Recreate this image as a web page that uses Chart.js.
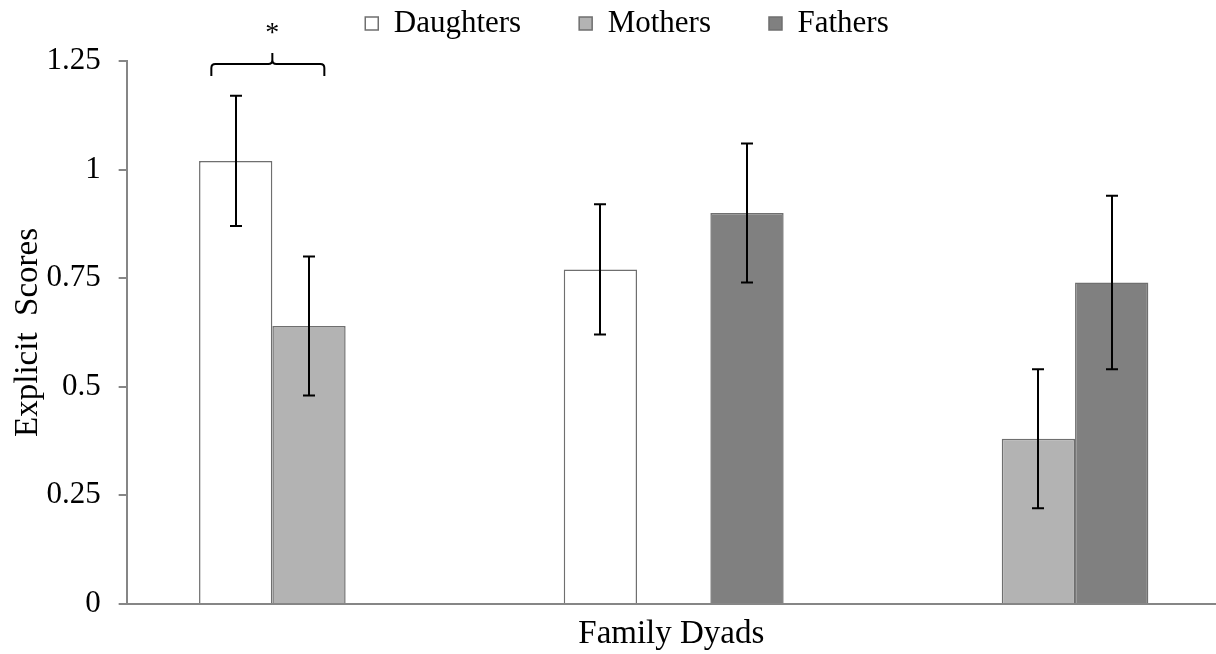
<!DOCTYPE html>
<html>
<head>
<meta charset="utf-8">
<script src="https://cdn.jsdelivr.net/npm/chart.js@4/dist/chart.umd.min.js"></script>
<style>
html,body{margin:0;padding:0;background:#fff;overflow:hidden;}
#wrap{position:relative;width:1216px;height:654px;}
</style>
</head>
<body>
<div id="wrap"><canvas id="c"></canvas></div>
<script>
// ---- data ----
const categories = ['Daughter–Mother', 'Daughter–Father', 'Mother–Father'];
const seriesNames = ['Daughters', 'Mothers', 'Fathers'];
const daughters = [1.02, 0.77, null];
const mothers   = [0.64, null, 0.38];
const fathers   = [null, 0.90, 0.74];
const daughtersErr = [0.15, 0.15, null];
const mothersErr   = [0.16, null, 0.16];
const fathersErr   = [null, 0.16, 0.20];
const yTicks = [0, 0.25, 0.5, 0.75, 1, 1.25];
const significance = [{ category: 0, label: '*' }];

const FONT = '"Liberation Serif", "Times New Roman", serif';
const AXIS = '#868686';
const BORDER = '#6f6f6f';

function pts(arr){ return arr.map((v,i)=>({x:i+1, y:v})); }

const datasets = [
  {label: seriesNames[0], data: pts(daughters), err: daughtersErr, backgroundColor:'#ffffff'},
  {label: seriesNames[1], data: pts(mothers),   err: mothersErr,   backgroundColor:'#b3b3b3'},
  {label: seriesNames[2], data: pts(fathers),   err: fathersErr,   backgroundColor:'#808080'}
].map(d=>Object.assign(d,{borderColor:BORDER,borderWidth:1.5,categoryPercentage:0.603,barPercentage:1}));

const errorBars = {
  id:'errorBars',
  afterDatasetsDraw(chart){
    const ctx = chart.ctx, y = chart.scales.y;
    ctx.save();
    ctx.strokeStyle = '#000'; ctx.lineWidth = 2;
    chart.data.datasets.forEach((ds, di)=>{
      const meta = chart.getDatasetMeta(di);
      meta.data.forEach((el, i)=>{
        const v = ds.data[i].y, e = ds.err[i];
        if (v == null || e == null) return;
        const x = Math.round(el.x);
        const yt = y.getPixelForValue(v+e), yb = y.getPixelForValue(v-e);
        ctx.beginPath();
        ctx.moveTo(x, yt); ctx.lineTo(x, yb);
        ctx.moveTo(x-6, yt); ctx.lineTo(x+6, yt);
        ctx.moveTo(x-6, yb); ctx.lineTo(x+6, yb);
        ctx.stroke();
      });
    });
    ctx.restore();
  }
};

const bracket = {
  id:'bracket',
  afterDraw(chart){
    const ctx = chart.ctx, top = chart.chartArea.top;
    significance.forEach(s=>{
      const m0 = chart.getDatasetMeta(0).data[s.category];
      const mid = m0.x + m0.width/2;
      const L = mid - 61, R = mid + 52;
      const yh = top + 3, ye = top + 15, yp = top - 8;
      ctx.save();
      ctx.strokeStyle = '#000'; ctx.lineWidth = 2;
      ctx.beginPath();
      ctx.moveTo(L, ye);
      ctx.lineTo(L, yh+4);
      ctx.quadraticCurveTo(L, yh, L+4, yh);
      ctx.lineTo(mid-4, yh);
      ctx.quadraticCurveTo(mid, yh, mid, yh-4);
      ctx.lineTo(mid, yp);
      ctx.moveTo(mid, yh-4);
      ctx.quadraticCurveTo(mid, yh, mid+4, yh);
      ctx.lineTo(R-4, yh);
      ctx.quadraticCurveTo(R, yh, R, yh+4);
      ctx.lineTo(R, ye);
      ctx.stroke();
      ctx.fillStyle = '#000';
      ctx.font = '28px ' + FONT;
      ctx.textAlign = 'center'; ctx.textBaseline = 'middle';
      ctx.fillText(s.label, mid, top - 27);
      ctx.restore();
    });
  }
};

// nudge the legend block (the source chart was cropped on its right side)
const legendShift = {
  id:'legendShift',
  afterLayout(chart){
    const lg = chart.legend;
    if (!lg) return;
    lg.top -= 12; lg.bottom -= 12;
    lg.left += 19; lg.right += 19;
  }
};

new Chart(document.getElementById('c'), {
  type:'bar',
  data:{ datasets },
  options:{
    responsive:true, maintainAspectRatio:false, animation:false,
    layout:{ padding:{ top:-40, right:0, bottom:0, left:0 } },
    plugins:{
      legend:{
        position:'top',
        labels:{ font:{family:FONT, size:31}, color:'#000', boxWidth:13, boxHeight:13, padding:58 }
      },
      tooltip:{enabled:false}
    },
    scales:{
      x:{
        type:'linear', min:0.5, max:3.487, bounds:'data', offset:false,
        afterBuildTicks(s){ s.ticks = categories.map((c,i)=>({value:i+1})); },
        ticks:{display:false},
        grid:{display:false, drawTicks:false, offset:false},
        border:{display:true, color:AXIS, width:2},
        title:{display:true, text:'Family Dyads', color:'#000', font:{family:FONT, size:33}, padding:{top:10.5,bottom:0}}
      },
      y:{
        min:0, max:1.25,
        afterBuildTicks(s){ s.ticks = yTicks.map(v=>({value:v})); },
        afterFit(s){ s.width = 126.65; s.paddingTop = 61; },
        ticks:{ color:'#000', font:{family:FONT, size:31}, padding:18, callback:v=>String(v) },
        grid:{ drawOnChartArea:false, drawTicks:true, tickLength:8, color:AXIS, lineWidth:2 },
        border:{display:true, color:AXIS, width:2},
        title:{display:true, text:'Explicit  Scores', color:'#000', font:{family:FONT, size:33}, padding:{top:9,bottom:0}}
      }
    }
  },
  plugins:[errorBars, bracket, legendShift]
});
</script>
</body>
</html>
